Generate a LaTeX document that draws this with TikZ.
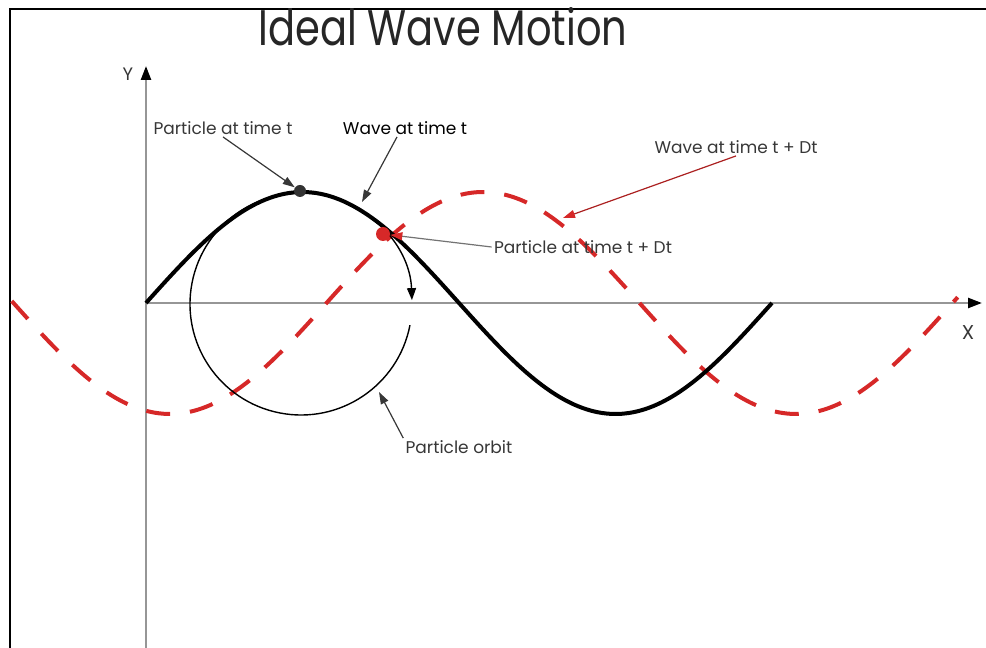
\documentclass[tikz,border=0pt]{standalone}
\usepackage{fontspec}
\setmainfont{Poppins}
\usetikzlibrary{arrows.meta, positioning}
\definecolor{cW}{RGB}{214,40,40}
\definecolor{cA}{RGB}{150,150,150}
\definecolor{cT}{RGB}{55,55,55}

\begin{document}
\begin{tikzpicture}[x=0.5pt, y=0.5pt, >={Triangle[length=6pt, width=4pt]},
    axis/.style={cA, line width=1.2pt, -{Triangle[length=7pt, width=5pt, color=black]}},
    wave/.style={line width=2pt, smooth},
    ghost/.style={cW, line width=2pt, dash pattern=on 12pt off 10pt, smooth},
    note/.style={font=\fontsize{8.5}{10}\selectfont, text=cT, inner sep=1pt},
    pointer/.style={->, line width=0.6pt, draw=cT}]
    \useasboundingbox (0,0) rectangle (986,648);

    % Frame and title
    \draw[line width=1pt] (10,0) -- (10,639) -- (986,639);
    \node[text=black!85] (title) at (443,621) {\scalebox{0.8}[1]{\fontsize{25}{25}\selectfont Ideal Wave Motion}};

    % Axes
    \coordinate (O) at (146,345);
    \coordinate (Yb) at (146,0);
    \coordinate (Ye) at (146,582);
    \coordinate (Xe) at (982,345);
    \draw[axis] (O) -- (Xe);
    \draw[axis] (Yb) -- (Ye);
    \node[note, font=\fontsize{9}{10}\selectfont] (ylbl) at (128,574) {Y};
    \node[note, font=\fontsize{10}{11}\selectfont] (xlbl) at (968,315) {X};

    % Waves
    \draw[ghost] plot[domain=-1:543, samples=120] ({13.5+\x/360*626},{345-111*sin(\x)});
    \draw[line width=0.7pt, -{Triangle[length=6pt, width=4.5pt]}]
        (301,344) ++(-11:111) arc[start angle=-11, end angle=-358, radius=111];
    \draw[wave] plot[domain=0:360, samples=80] ({146+\x/360*626},{345+111*sin(\x)});

    % Particles
    \node[circle, fill=black!80, inner sep=0pt, minimum size=6pt] (pt) at (300,457) {};
    \node[circle, fill=cW, inner sep=0pt, minimum size=7pt] (ptDt) at (383,414) {};
    \coordinate (wt) at (362,446);
    \coordinate (wtDt) at (563,430);
    \coordinate (orb) at (379,256);

    % Labels
    \node[note] (lblPt) at (223,520) {Particle at time t};
    \node[note, text=black] (lblWave) at (405,520) {Wave at time t};
    \node[note] (lblWaveDt) at (736,501) {Wave at time t + Dt};
    \node[note] (lblPtDt) at (583,401) {Particle at time t + Dt};
    \node[note] (lblOrb) at (459,201) {Particle orbit};

    % Pointers
    \draw[pointer] (lblPt.south) -- (pt);
    \draw[pointer] (lblWave.south) ++(-8,0) -- (wt);
    \draw[pointer, draw=cW!80!black, -{Triangle[length=6pt, width=4pt, color=cW]}] (lblWaveDt.south) -- (wtDt);
    \draw[pointer, draw=black!55, -{Triangle[length=6pt, width=4pt, color=cW]}] (lblPtDt.west) -- (ptDt);
    \draw[pointer] (lblOrb.north west) -- (orb);
\end{tikzpicture}
\end{document}
